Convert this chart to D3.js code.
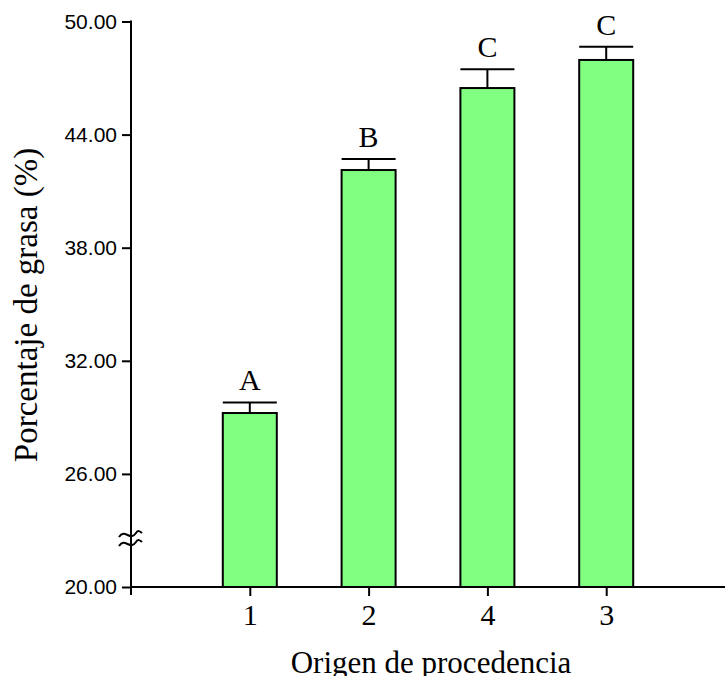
<!DOCTYPE html>
<html>
<head>
<meta charset="utf-8">
<script src="https://cdn.jsdelivr.net/npm/d3@7"></script>
<style>
  body { margin: 0; background: #fff; }
  svg { display: block; }
</style>
</head>
<body>
<div id="chart"></div>
<script>
  // data
  var origins = ["1", "2", "4", "3"];
  var means = [29.23, 42.12, 46.47, 47.96];
  var errors = [0.56, 0.58, 1.0, 0.7];
  var letters = ["A", "B", "C", "C"];
  var yTicks = [20, 26, 32, 38, 44, 50];

  var width = 725, height = 676;
  var mLeft = 131, mRight = 725, mTop = 21.5, mBottom = 587;
  var serif = "'Liberation Serif', 'Times New Roman', serif";

  var svg = d3.select("#chart").append("svg")
    .attr("width", width)
    .attr("height", height);

  var x = d3.scalePoint()
    .domain(origins)
    .range([mLeft, mRight])
    .padding(1);

  var y = d3.scaleLinear()
    .domain([20, 50])
    .range([mBottom, mTop]);

  var barW = 54;

  // bars
  svg.selectAll(".bar")
    .data(origins)
    .enter().append("rect")
    .attr("class", "bar")
    .attr("x", d => x(d) - barW / 2)
    .attr("y", (d, i) => y(means[i]))
    .attr("width", barW)
    .attr("height", (d, i) => y(20) - y(means[i]))
    .attr("fill", "#80FF80")
    .attr("stroke", "#000")
    .attr("stroke-width", 2);

  // error bars (upper only)
  var err = svg.selectAll(".err")
    .data(origins)
    .enter().append("g")
    .attr("class", "err")
    .attr("stroke", "#000")
    .attr("stroke-width", 2);

  err.append("line")
    .attr("x1", d => x(d)).attr("x2", d => x(d))
    .attr("y1", (d, i) => y(means[i]))
    .attr("y2", (d, i) => y(means[i] + errors[i]));

  err.append("line")
    .attr("x1", d => x(d) - barW / 2).attr("x2", d => x(d) + barW / 2)
    .attr("y1", (d, i) => y(means[i] + errors[i]))
    .attr("y2", (d, i) => y(means[i] + errors[i]));

  // significance letters
  svg.selectAll(".letter")
    .data(origins)
    .enter().append("text")
    .attr("class", "letter")
    .attr("x", d => x(d))
    .attr("y", (d, i) => y(means[i] + errors[i]) - 12)
    .attr("text-anchor", "middle")
    .style("font-family", serif)
    .style("font-size", "30px")
    .text((d, i) => letters[i]);

  // y axis
  var yAxis = svg.append("g")
    .attr("transform", "translate(" + mLeft + ",0)")
    .call(d3.axisLeft(y).tickValues(yTicks).tickFormat(d3.format(".2f")).tickSize(9).tickPadding(5));
  yAxis.select(".domain").remove();
  yAxis.selectAll("line").attr("stroke-width", 2);
  yAxis.selectAll("text")
    .style("font-family", "'Liberation Sans', Arial, sans-serif")
    .style("font-size", "21px")
    .attr("fill", "#000");

  svg.append("line")
    .attr("x1", mLeft).attr("x2", mLeft)
    .attr("y1", mTop - 1).attr("y2", mBottom + 8)
    .attr("stroke", "#000").attr("stroke-width", 2);

  // x axis
  var xAxis = svg.append("g")
    .attr("transform", "translate(0," + mBottom + ")")
    .call(d3.axisBottom(x).tickSize(9).tickPadding(8));
  xAxis.select(".domain").remove();
  xAxis.selectAll("line").attr("stroke-width", 2);
  xAxis.selectAll("text")
    .style("font-family", serif)
    .style("font-size", "30px")
    .attr("fill", "#000");

  svg.append("line")
    .attr("x1", mLeft).attr("x2", mRight)
    .attr("y1", mBottom).attr("y2", mBottom)
    .attr("stroke", "#000").attr("stroke-width", 2);

  // axis break mark
  var brk = svg.append("g").attr("fill", "none").attr("stroke", "#000").attr("stroke-width", 2);
  [535, 544].forEach(function (cy) {
    brk.append("path")
      .attr("d", "M" + (mLeft - 12) + "," + (cy + 2) +
        " C" + (mLeft - 6) + "," + (cy - 7) + " " + (mLeft - 1) + "," + (cy + 7) + " " + (mLeft + 5) + "," + (cy - 2) +
        " C" + (mLeft + 7) + "," + (cy - 5) + " " + (mLeft + 9) + "," + (cy - 4) + " " + (mLeft + 11) + "," + (cy - 2));
  });

  // axis titles
  svg.append("text")
    .attr("transform", "translate(37,305) rotate(-90)")
    .attr("text-anchor", "middle")
    .style("font-family", serif)
    .style("font-size", "33px")
    .text("Porcentaje de grasa (%)");

  svg.append("text")
    .attr("x", 431)
    .attr("y", 673)
    .attr("text-anchor", "middle")
    .style("font-family", serif)
    .style("font-size", "31px")
    .text("Origen de procedencia");
</script>
</body>
</html>
